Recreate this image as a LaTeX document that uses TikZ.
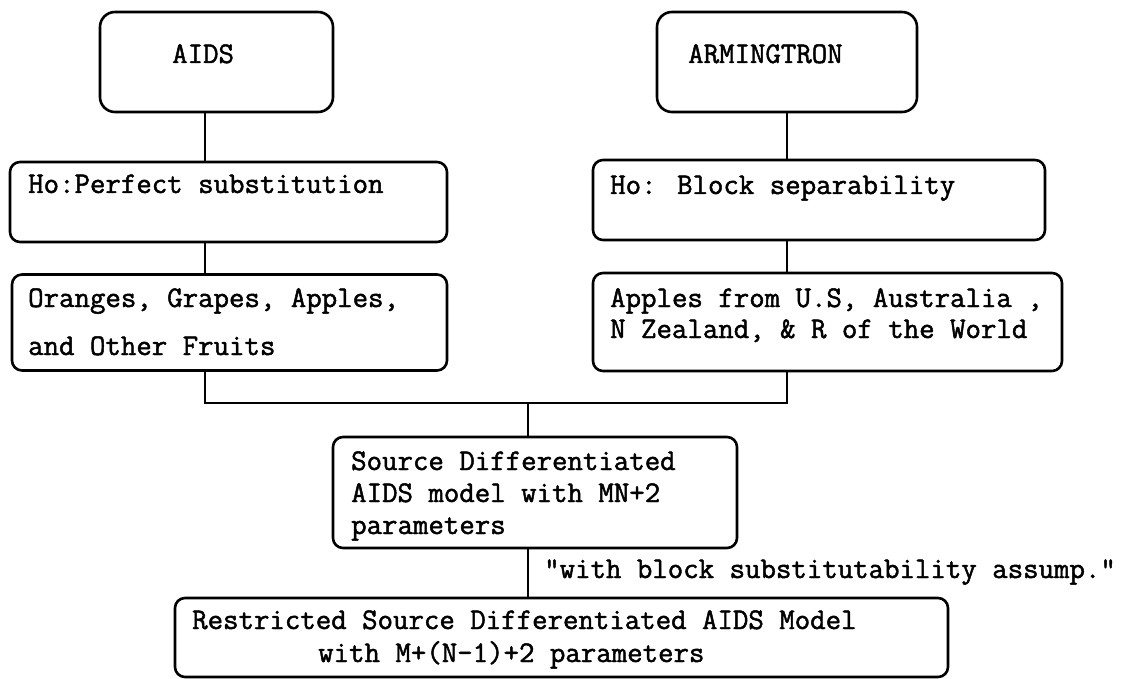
\documentclass[tikz,border=0pt]{standalone}
\usepackage{fontspec}
\newfontfamily\boxfont{Latin Modern Mono}[FakeBold=1.6]
\begin{document}
\begin{tikzpicture}[x=1pt,y=-1pt,
  box/.style={draw,line width=2.6pt,rounded corners=10pt,inner sep=0pt},
  bigbox/.style={box,rounded corners=15pt},
  txt/.style={anchor=base west,inner sep=0pt,font=\fontsize{30}{31}\boxfont},
  link/.style={line width=2pt}]
\useasboundingbox (0,0) rectangle (1138,679);

% boxes
\node[bigbox,minimum width=233pt,minimum height=100pt] (aids) at (216.5,62) {};
\node[bigbox,minimum width=260pt,minimum height=100pt] (arm) at (787,62) {};
\node[box,minimum width=437pt,minimum height=80pt] (ho1) at (228.5,202) {};
\node[box,minimum width=452pt,minimum height=80pt] (ho2) at (819,200) {};
\node[box,minimum width=435pt,minimum height=96pt] (fruits) at (229.5,322.5) {};
\node[box,minimum width=469pt,minimum height=98pt] (apples) at (827.5,322) {};
\node[box,minimum width=404pt,minimum height=111pt] (source) at (535,492.5) {};
\node[box,minimum width=773pt,minimum height=79pt] (restr) at (561.5,637.5) {};

% texts
\node[txt] (taids) at (172,63) {AIDS};
\node[txt] (tarm) at (688,63) {ARMINGTRON};
\node[txt] (tho1) at (28,193) {Ho:Perfect substitution};
\node[txt] (tho2) at (610,194) {Ho: Block separability};
\node[txt] (tfr1) at (28,307) {Oranges, Grapes, Apples,};
\node[txt] (tfr2) at (28,355) {and Other Fruits};
\node[txt] (tap1) at (610,307) {Apples from U.S, Australia ,};
\node[txt] (tap2) at (610,338) {N Zealand, \& R of the World};
\node[txt] (tsd1) at (351,470) {Source Differentiated};
\node[txt] (tsd2) at (351,502) {AIDS model with MN+2};
\node[txt] (tsd3) at (351,534) {parameters};
\node[txt] (trs1) at (192,629) {Restricted Source Differentiated AIDS Model};
\node[txt] (trs2) at (318,662) {with M+(N-1)+2 parameters};
\node[txt] (tlab) at (544,578) {"with block substitutability assump."};

% connectors
\coordinate (lx) at (205,0);
\coordinate (j) at (528,403);
\draw[link] (aids.south -| lx) -- (ho1.north -| lx);
\draw[link] (ho1.south -| lx) -- (fruits.north -| lx);
\draw[link] (arm.south) -- (ho2.north -| arm.south);
\draw[link] (ho2.south -| arm.south) -- (apples.north -| arm.south);
\draw[link] (fruits.south -| lx) -- (lx |- j) -- (j -| arm.south) -- (apples.south -| arm.south);
\draw[link] (j) -- (source.north -| j);
\draw[link] (source.south -| j) -- (restr.north -| j);
\end{tikzpicture}
\end{document}
